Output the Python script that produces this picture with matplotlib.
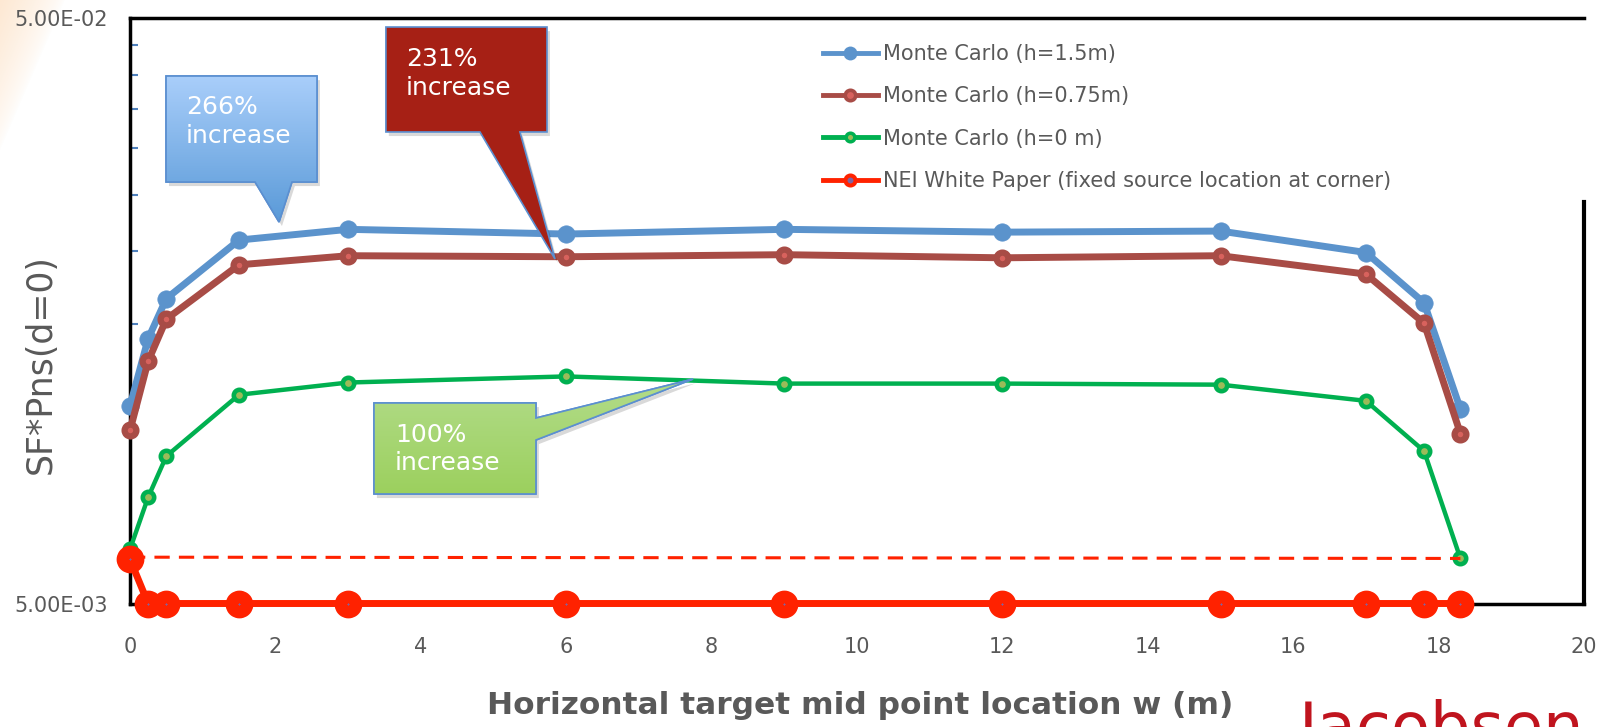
import numpy as np
import matplotlib.pyplot as plt
from matplotlib.colors import to_rgb
from matplotlib.patches import Polygon
from matplotlib.lines import Line2D
from matplotlib.ticker import NullFormatter

# values (log y axis)
w = [0, 0.25, 0.5, 1.5, 3, 6, 9, 12, 15, 17, 17.8, 18.3]
mc_h150 = [0.01088, 0.01418, 0.0166, 0.0209, 0.0218, 0.0214, 0.0218, 0.02156, 0.02165, 0.0199, 0.01633, 0.01075]
mc_h075 = [0.00988, 0.01298, 0.01531, 0.01896, 0.01965, 0.01957, 0.01973, 0.01949, 0.01965, 0.01828, 0.01507, 0.00976]
mc_h0 = [0.00619, 0.0076, 0.00893, 0.01137, 0.01193, 0.01222, 0.01188, 0.01188, 0.01183, 0.0111, 0.00911, 0.00597]
nei = [0.00595, 0.005, 0.005, 0.005, 0.005, 0.005, 0.005, 0.005, 0.005, 0.005, 0.005, 0.005]
ref_w = [0, 18.3]
ref_val = [0.00600, 0.00597]

labels = ['Monte Carlo (h=1.5m)', 'Monte Carlo (h=0.75m)', 'Monte Carlo (h=0 m)',
          'NEI White Paper (fixed source location at corner)']
xticks = [0, 2, 4, 6, 8, 10, 12, 14, 16, 18, 20]

BLUE = '#5B93CC'
DRED = '#A84C46'
GREEN = '#00B050'
RED = '#FF2200'
GRAY = '#595959'

W, H = 1604, 727
fig = plt.figure(figsize=(W / 100, H / 100), dpi=100)
fig.patch.set_facecolor('white')

# faint peach glow in the top-left corner (slide background)
glow = fig.add_axes([0, 1 - 300 / H, 140 / W, 300 / H], zorder=-5)
gx, gy = np.meshgrid(np.linspace(0, 140, 140), np.linspace(0, 300, 300))
a = np.clip(1 - (gx / 65 + gy / 150), 0, 1) ** 0.7 * 0.3
img = np.zeros((300, 140, 4))
img[..., 0], img[..., 1], img[..., 2], img[..., 3] = 0.98, 0.7, 0.42, a
glow.imshow(img, aspect='auto', interpolation='bilinear')
glow.axis('off')

ax = fig.add_axes([130 / W, 1 - 603.5 / H, 1454 / W, 585.1 / H])
ax.set_facecolor('none')

ax.plot(w, mc_h150, color=BLUE, lw=5, marker='o', ms=12.5, mfc=BLUE, mec=BLUE, mew=0.5,
        clip_on=False, zorder=3)
ax.plot(w, mc_h075, color=DRED, lw=5, marker='o', ms=8.5, mfc='#D8625D', mec=DRED, mew=4.5,
        clip_on=False, zorder=3.1)
ax.plot(w, mc_h0, color=GREEN, lw=3.2, marker='o', ms=8.2, mfc='#9BBB59', mec=GREEN, mew=3.3,
        clip_on=False, zorder=3.2)
ax.plot(ref_w, ref_val, color=RED, lw=2.2, dashes=(5, 3), clip_on=False, zorder=3.3)
ax.plot(w, nei, color=RED, lw=5, marker='o', ms=11, mfc='#8064A2', mec=RED, mew=9,
        clip_on=False, zorder=4)

ax.set_yscale('log')
ax.set_xlim(0, 20)
ax.set_ylim(5e-3, 5e-2)
ax.set_xticks(xticks)
ax.set_xticklabels([str(t) for t in xticks])
ax.set_yticks([5e-3, 5e-2])
ax.set_yticklabels(['5.00E-03', '5.00E-02'])
ax.set_yticks(np.arange(0.01, 0.0451, 0.005), minor=True)
ax.yaxis.set_minor_formatter(NullFormatter())
ax.tick_params(axis='x', length=0, pad=24, labelsize=15, labelcolor=GRAY)
ax.tick_params(axis='y', which='major', length=0, pad=16, labelsize=15, labelcolor=GRAY)
ax.tick_params(axis='y', which='minor', direction='in', length=6, width=1.5, color='#4F81BD')
ax.xaxis.set_minor_locator(plt.NullLocator())

for s in ax.spines.values():
    s.set_color('black')
    s.set_linewidth(2.5)
ax.spines['right'].set_linewidth(3)
ax.spines['right'].set_bounds(5e-3, 0.0243)

handles = [
    Line2D([], [], color=BLUE, lw=3.5, marker='o', ms=10, mfc=BLUE, mec=BLUE, mew=0),
    Line2D([], [], color=DRED, lw=3.5, marker='o', ms=7.5, mfc='#D8625D', mec=DRED, mew=2.6),
    Line2D([], [], color=GREEN, lw=3.5, marker='o', ms=6.2, mfc='#9BBB59', mec=GREEN, mew=2.5),
    Line2D([], [], color=RED, lw=3.5, marker='o', ms=7.2, mfc='#8064A2', mec=RED, mew=2.9),
]
ax.legend(handles, labels, loc='upper left', bbox_to_anchor=(0.4766, 0.956), frameon=False,
          fontsize=15, handlelength=2.64, handletextpad=0.25, labelspacing=1.07,
          borderpad=0, borderaxespad=0, labelcolor=GRAY)

# callout overlay in axes fractions
ov = fig.add_axes(ax.get_position(), zorder=10)
ov.axis('off')


def callout(pts, colors, text, tx, ty):
    shadow = Polygon([(x + 0.002, y - 0.007) for x, y in pts], closed=True,
                     facecolor='black', edgecolor='none', alpha=0.15, zorder=1)
    ov.add_patch(shadow)
    patch = Polygon(pts, closed=True, facecolor=colors[-1], edgecolor='#5B8FD0', lw=1.2, zorder=2)
    ov.add_patch(patch)
    xs = [p[0] for p in pts]
    ys = [p[1] for p in pts]
    if len(colors) > 1:
        t = np.linspace(0, 1, 100)[:, None, None]
        g = np.array(to_rgb(colors[0]))[None, None, :] * (1 - t) + np.array(to_rgb(colors[1]))[None, None, :] * t
        im = ov.imshow(g, extent=[min(xs), max(xs), min(ys), max(ys)], origin='upper',
                       aspect='auto', zorder=2.1, interpolation='bilinear')
        im.set_clip_path(patch)
        ov.add_patch(Polygon(pts, closed=True, facecolor='none', edgecolor='#5B8FD0', lw=1.2, zorder=2.2))
    ov.text(tx, ty, text, color='white', fontsize=18, ha='left', va='center',
            linespacing=1.25, zorder=3)


L, R, T, B = 0.0248, 0.1286, 0.9015, 0.7204
callout([(L, B), (L, T), (R, T), (R, B), (0.1114, B), (0.1025, 0.652), (0.086, B)],
        ['#A9CEFA', '#5A9AD8'], '266%\nincrease', 0.0383, 0.8238)
L, R, T, B = 0.176, 0.2868, 0.9853, 0.8059
callout([(L, B), (L, T), (R, T), (R, B), (0.2682, B), (0.2923, 0.5888), (0.2407, B)],
        ['#A62015'], '231%\nincrease', 0.1896, 0.9062)
L, R, T, B = 0.1678, 0.2792, 0.3427, 0.1872
callout([(L, B), (L, T), (R, T), (R, 0.317), (0.3872, 0.3836), (R, 0.2794), (R, B)],
        ['#B2DC8A', '#9CD05E'], '100%\nincrease', 0.1823, 0.2641)
ov.set_xlim(0, 1)
ov.set_ylim(0, 1)

fig.text(41 / W, 1 - 364 / H, 'SF*Pns(d=0)', rotation=90, fontsize=25, color=GRAY,
         ha='center', va='center')
fig.text(860 / W, 1 - 706 / H, 'Horizontal target mid point location w (m)', fontsize=22.5,
         fontweight='bold', color=GRAY, ha='center', va='center')
# logo, cut off by the bottom edge as in the slide
fig.text(1298 / W, 1 - 748 / H, 'Jacobsen', fontsize=46, color='#C0141E', ha='left', va='baseline')

fig.savefig('out.png', dpi=100)
